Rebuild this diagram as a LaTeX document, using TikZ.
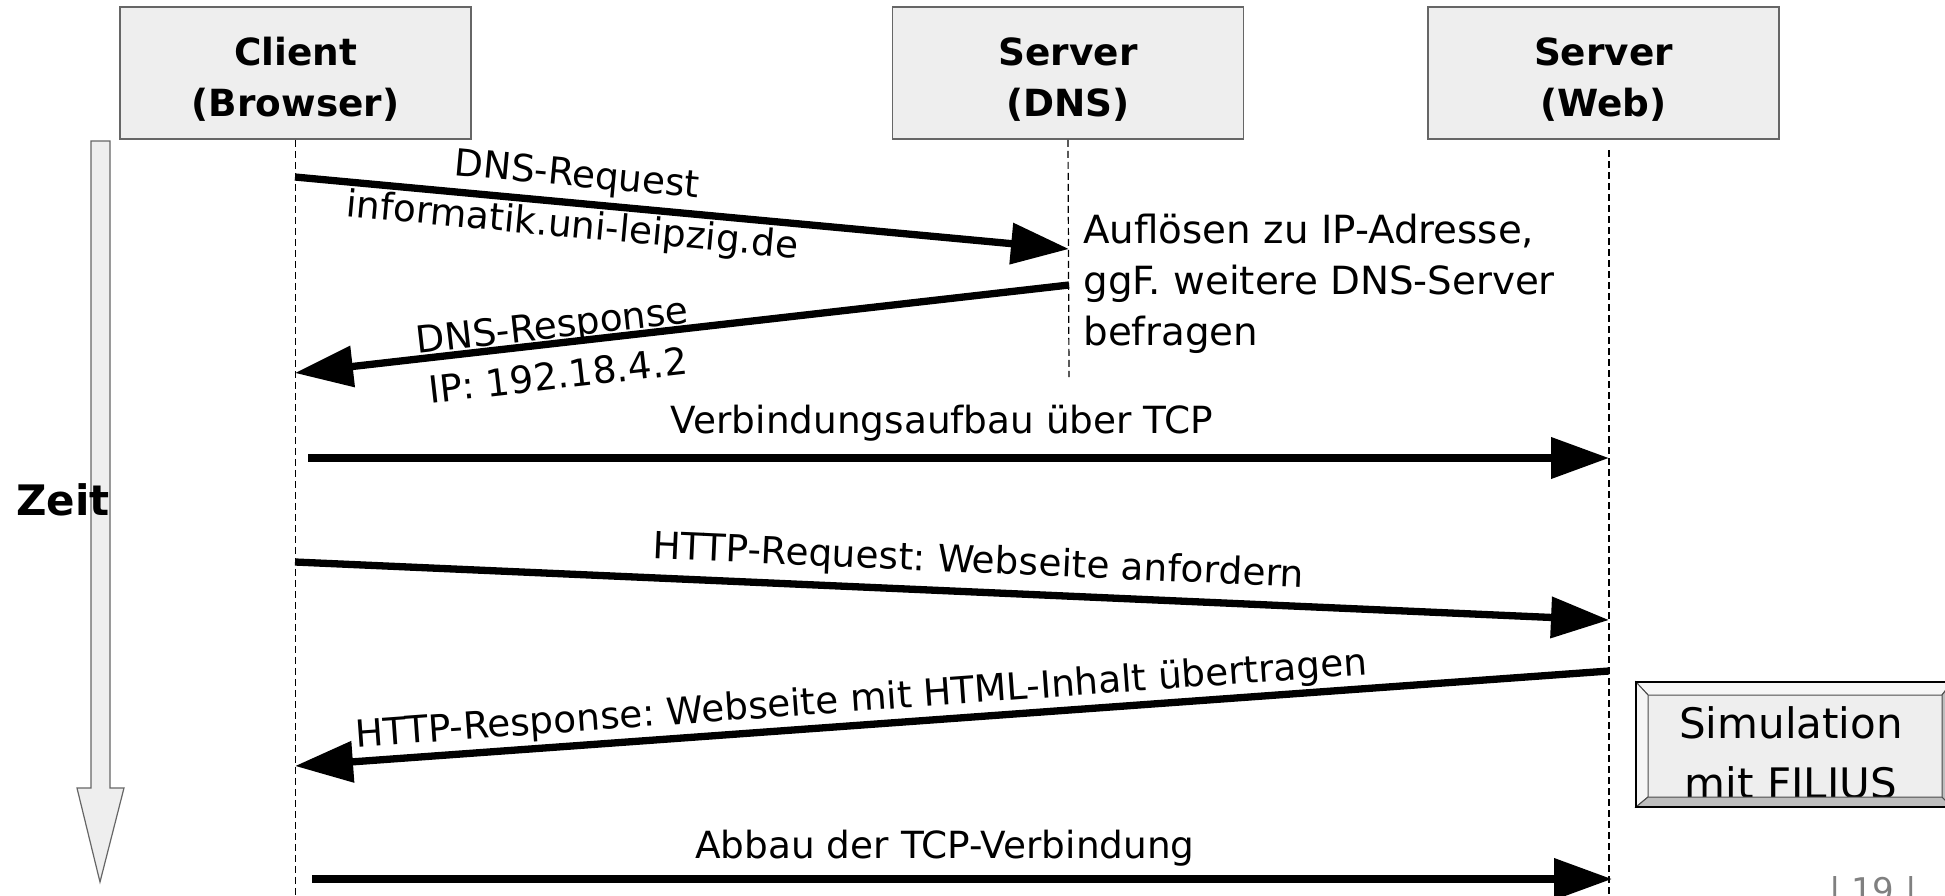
\documentclass[tikz,border=0pt]{standalone}
\usepackage{fontspec}
\setmainfont{DejaVu Sans}
\usetikzlibrary{arrows.meta}
\definecolor{boxfill}{HTML}{EEEEEE}
\definecolor{boxline}{HTML}{666666}
\definecolor{bevellight}{HTML}{F6F6F6}
\definecolor{beveldark}{HTML}{BEBEBE}
\definecolor{pagegray}{HTML}{808080}
\frenchspacing
\begin{document}
\begin{tikzpicture}[x=0.5pt,y=-0.5pt,
  actor/.style={draw=boxline, line width=0.75pt, fill=boxfill,
    minimum width=175.5pt, minimum height=66pt, inner sep=0pt, align=center,
    font=\fontsize{18.7pt}{25.5pt}\selectfont\bfseries},
  lifeline/.style={line width=0.6pt, dash pattern=on 3.5pt off 2pt},
  msg/.style={line width=3.65pt, -{Triangle[length=29pt,width=20pt]}},
  lbl/.style={font=\fontsize{18.7pt}{25.5pt}\selectfont, inner sep=0pt, align=center},
  bevel/.style={draw=black!70, line width=0.5pt},
]
\useasboundingbox (0,0) rectangle (1945,895);
\coordinate (bottom) at (0,895);

% time axis
\draw[fill=boxfill, draw=boxline, line width=0.6pt]
  (91,141) -- (110,141) -- (110,788) -- (124,788) -- (100,882) -- (77,788) -- (91,788) -- cycle;
\node[font=\fontsize{21pt}{25pt}\selectfont\bfseries, anchor=base west, inner sep=0pt]
  (zeit) at (16,515) {Zeit};

% participants
\node[actor] (client) at (295.5,73) {\rule{0pt}{20pt}Client\\(Browser)};
\node[actor] (dns) at (1068,73) {\rule{0pt}{20pt}Server\\(DNS)};
\node[actor] (web) at (1603.5,73) {\rule{0pt}{20pt}Server\\(Web)};

% lifelines
\coordinate (dns-end) at (1069,377);
\coordinate (web-top) at (1609,150);
\coordinate (web-end) at (1609,895);
\draw[lifeline] (client.south) -- (client.south |- bottom);
\draw[lifeline] (dns.south) -- (dns-end);
\draw[lifeline] (web-top) -- (web-end);

% message end points on the lifelines
\coordinate (req-a) at (295,177);  \coordinate (req-b) at (1069,249);
\coordinate (res-a) at (1069,285); \coordinate (res-b) at (295,373);
\coordinate (tcp-a) at (308,458);  \coordinate (tcp-b) at (1609,458);
\coordinate (hrq-a) at (295,562);  \coordinate (hrq-b) at (1609,620);
\coordinate (hrs-a) at (1609,671); \coordinate (hrs-b) at (295,766);
\coordinate (fin-a) at (312,879);  \coordinate (fin-b) at (1612,879);

% messages
\draw[msg] (req-a) -- (req-b);
\draw[msg] (res-a) -- (res-b);
\draw[msg] (tcp-a) -- (tcp-b);
\draw[msg] (hrq-a) -- (hrq-b);
\draw[msg] (hrs-a) -- (hrs-b);
\draw[msg] (fin-a) -- (fin-b);

% message labels
\node[lbl, rotate=-5.31] (req-lbl) at (574.5,202) {DNS-Request\\informatik.uni-leipzig.de};
\node[lbl, rotate=6.49] (res-lbl) at (555,350) {DNS-Response\\IP: 192.18.4.2};
\node[lbl, anchor=base] (tcp-lbl) at (942,433) {Verbindungsaufbau über TCP};
\node[lbl, anchor=base, rotate=-2.53] (hrq-lbl) at (978,573) {HTTP-Request: Webseite anfordern};
\node[lbl, anchor=base, rotate=4.13] (hrs-lbl) at (862,711) {HTTP-Response: Webseite mit HTML-Inhalt übertragen};
\node[lbl, anchor=base] (fin-lbl) at (945,858) {Abbau der TCP-Verbindung};

% note at the DNS server
\node[lbl, font=\fontsize{19.4pt}{25.5pt}\selectfont, align=left, anchor=west] (dns-note) at (1083,283.5)
  {Auflösen zu IP-Adresse,\\ggF. weitere DNS-Server\\befragen};

% button
\fill[boxfill] (1636,682) rectangle (1952,807);
\node[lbl, font=\fontsize{21pt}{30pt}\selectfont] (sim) at (1791,753) {Simulation\\mit FILIUS};
\filldraw[bevel, fill=bevellight] (1636,682) -- (1952,682) -- (1942,695) -- (1648,695) -- cycle;
\filldraw[bevel, fill=bevellight] (1636,682) -- (1648,695) -- (1648,797) -- (1636,807) -- cycle;
\filldraw[bevel, fill=beveldark] (1636,807) -- (1648,797) -- (1942,797) -- (1952,807) -- cycle;
\filldraw[bevel, fill=beveldark] (1952,682) -- (1942,695) -- (1942,797) -- (1952,807) -- cycle;
\draw[line width=0.75pt] (1636,682) rectangle (1952,807);

% page number
\node[font=\fontsize{17pt}{20pt}\selectfont, text=pagegray, anchor=base, inner sep=0pt]
  (page) at (1873,902) {| 19 |};
\end{tikzpicture}
\end{document}
